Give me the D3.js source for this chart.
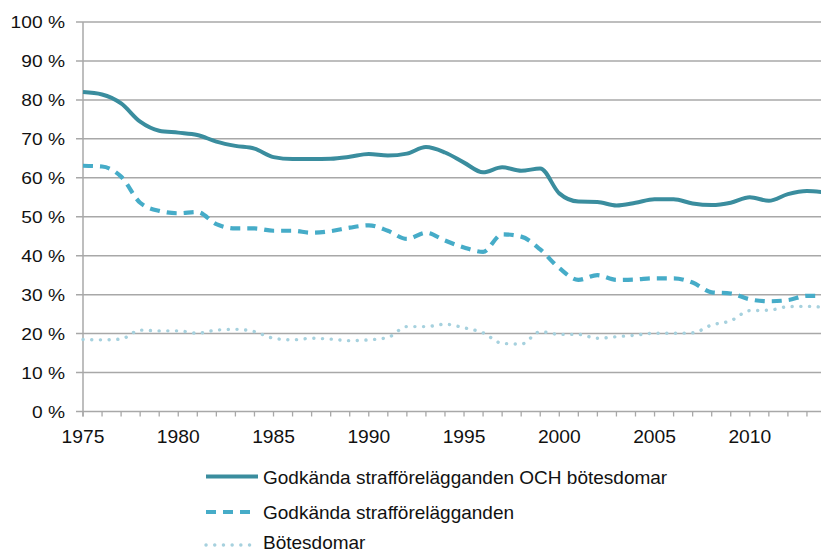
<!DOCTYPE html>
<html><head><meta charset="utf-8">
<script src="https://cdn.jsdelivr.net/npm/d3@7"></script>
<style>body{margin:0;background:#fff;}svg{display:block;font-family:"Liberation Sans",Arial,sans-serif;}</style>
</head><body>
<svg id="c" width="821" height="554"></svg>
<script>
const years = d3.range(1975, 2015);
const totalSeries = [82.0,81.4,79.1,74.4,72.1,71.6,71.0,69.3,68.2,67.5,65.3,64.8,64.8,64.9,65.4,66.1,65.7,66.2,67.9,66.5,63.9,61.4,62.7,61.8,62.4,56.0,53.9,53.8,52.9,53.6,54.5,54.5,53.4,53.0,53.6,55.0,54.1,55.8,56.6,56.2];
const strafSeries = [63.1,62.9,60.3,53.6,51.5,50.9,51.2,48.1,47.0,47.0,46.4,46.4,45.9,46.3,47.2,47.8,46.4,44.3,45.9,43.9,42.1,41.0,45.5,44.9,41.6,36.8,33.8,35.0,33.8,33.9,34.2,34.2,33.1,30.6,30.3,28.8,28.3,28.6,29.7,29.7];
const botesSeries = [18.5,18.4,18.6,20.9,20.7,20.7,20.1,20.9,21.1,20.5,18.8,18.4,18.8,18.6,18.2,18.4,19.0,21.8,21.8,22.4,21.5,20.2,17.5,17.3,20.5,19.8,19.8,18.8,19.2,19.6,20.1,20.1,20.2,22.2,23.3,25.9,26.0,26.9,27.0,26.7];
const yTicks = [0,10,20,30,40,50,60,70,80,90,100];
const xTickLabels = [1975,1980,1985,1990,1995,2000,2005,2010];
const seriesNames = ["Godkända strafförelägganden OCH bötesdomar","Godkända strafförelägganden","Bötesdomar"];

const svg = d3.select("#c");
const x = d3.scaleLinear().domain([1975, 2014]).range([83, 826]);
const y = d3.scaleLinear().domain([0, 100]).range([411.5, 22]);
const gridColor = "#a8a8a8";

svg.append("g").selectAll("line").data(yTicks.filter(d=>d>0)).join("line")
  .attr("x1", 76).attr("x2", 821).attr("y1", d=>y(d)).attr("y2", d=>y(d))
  .attr("stroke", gridColor).attr("stroke-width", 1.5);
svg.append("line").attr("x1",83).attr("x2",83).attr("y1",y(100)).attr("y2",y(0)+5)
  .attr("stroke",gridColor).attr("stroke-width",1.5);
svg.append("line").attr("x1",76).attr("x2",821).attr("y1",y(0)).attr("y2",y(0))
  .attr("stroke",gridColor).attr("stroke-width",1.5);
svg.append("g").selectAll("line").data(d3.range(1975,2014)).join("line")
  .attr("x1",d=>x(d)).attr("x2",d=>x(d)).attr("y1",y(0)).attr("y2",y(0)+5)
  .attr("stroke",gridColor).attr("stroke-width",1.3);

svg.append("g").selectAll("text").data(yTicks).join("text")
  .attr("transform", d=>`translate(65,${y(d)+6}) scale(1.13,1)`).attr("text-anchor","end")
  .attr("font-size", 17).attr("fill","#111").text(d=>d+" %");
svg.append("g").selectAll("text").data(xTickLabels).join("text")
  .attr("transform", d=>`translate(${x(d)},443) scale(1.1,1)`).attr("text-anchor","middle")
  .attr("font-size", 17.5).attr("fill","#111").text(d=>d);

svg.append("defs").append("clipPath").attr("id","clip").append("rect")
  .attr("x",0).attr("y",0).attr("width",821).attr("height",430);

const line = d3.line().x((d,i)=>x(years[i])).y(d=>y(d)).curve(d3.curveMonotoneX);
const styles = [
  {data: totalSeries, color:"#3a8d9e", w:4, dash:null, cap:"butt"},
  {data: strafSeries, color:"#46acc8", w:4.2, dash:"10,7", cap:"butt"},
  {data: botesSeries, color:"#a6d1de", w:3.4, dash:"0.1,8.6", cap:"round"}
];
const g = svg.append("g").attr("clip-path","url(#clip)");
styles.slice().reverse().forEach(s=>{
  g.append("path").attr("d", line(s.data)).attr("fill","none")
    .attr("stroke", s.color).attr("stroke-width", s.w)
    .attr("stroke-dasharray", s.dash).attr("stroke-linecap", s.cap)
    .attr("stroke-linejoin","round");
});

const legY = [476.5, 512, 545];
const legBase = [484, 518.5, 549];
const leg = svg.append("g");
seriesNames.forEach((name,i)=>{
  const s = styles[i];
  leg.append("line").attr("x1", 206).attr("x2", i===0?258:(i===1?252:253))
    .attr("y1", legY[i]).attr("y2", legY[i])
    .attr("stroke", s.color).attr("stroke-width", s.w)
    .attr("stroke-dasharray", s.dash).attr("stroke-linecap", s.cap);
  leg.append("text").attr("x", 263).attr("y", legBase[i])
    .attr("font-size", 19).attr("fill","#111").text(name);
});
</script>
</body></html>
